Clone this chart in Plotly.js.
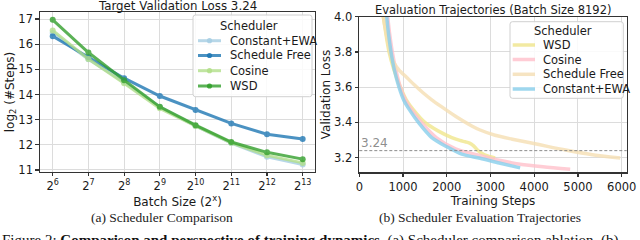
<!DOCTYPE html>
<html>
<head>
<meta charset="utf-8">
<script src="https://cdn.plot.ly/plotly-3.0.1.min.js"></script>
<style>html,body{margin:0;padding:0;background:#fff;}#chart{width:640px;height:240px;}</style>
</head>
<body>
<div id="chart"></div>
<script>
// ---- Panel (a): Scheduler comparison ----
const batchExp = [6, 7, 8, 9, 10, 11, 12, 13];
const batchTickText = ["2<sup>6</sup>","2<sup>7</sup>","2<sup>8</sup>","2<sup>9</sup>","2<sup>10</sup>","2<sup>11</sup>","2<sup>12</sup>","2<sup>13</sup>"];
const stepsConstEWA = [16.45, 15.40, 14.50, 13.50, 12.75, 12.07, 11.52, 11.22];
const stepsSchedFree = [16.32, 15.48, 14.65, 13.94, 13.38, 12.85, 12.42, 12.23];
const stepsCosine = [16.55, 15.41, 14.45, 13.45, 12.75, 12.08, 11.58, 11.28];
const stepsWSD = [16.97, 15.67, 14.57, 13.51, 12.78, 12.11, 11.70, 11.43];
const namesA = ["Constant+EWA", "Schedule Free", "Cosine", "WSD"];

// ---- Panel (b): Evaluation trajectories ----
const ewaSteps = [600, 627, 670, 725, 800, 908, 1020, 1160, 1351, 1656, 2000, 2343, 2762, 3200, 3677];
const ewaLoss  = [4.06, 4.00, 3.90, 3.80, 3.70, 3.60, 3.525, 3.467, 3.40, 3.314, 3.262, 3.22, 3.197, 3.17, 3.142];
const cosSteps = [625, 650, 695, 755, 835, 940, 1060, 1210, 1420, 1760, 2200, 2762, 3200, 3677, 4200, 4822];
const cosLoss  = [4.06, 4.00, 3.90, 3.80, 3.70, 3.60, 3.525, 3.467, 3.40, 3.314, 3.25, 3.212, 3.185, 3.163, 3.148, 3.134];
const wsdSteps = [515, 549, 610, 680, 790, 940, 1070, 1252, 1500, 1800, 2114, 2300, 2420, 2520, 2600, 2660, 2716, 2850, 3000, 3105];
const wsdLoss  = [4.06, 4.00, 3.90, 3.80, 3.70, 3.60, 3.53, 3.467, 3.40, 3.352, 3.314, 3.298, 3.29, 3.283, 3.27, 3.255, 3.24, 3.218, 3.205, 3.198];
const sfSteps  = [515, 549, 620, 700, 740, 790, 900, 1085, 1250, 1450, 1650, 1886, 2200, 2572, 2762, 3105, 3500, 3906, 4300, 4746, 5300, 5966];
const sfLoss   = [4.06, 4.00, 3.90, 3.80, 3.765, 3.74, 3.70, 3.655, 3.615, 3.57, 3.53, 3.488, 3.435, 3.38, 3.357, 3.327, 3.305, 3.285, 3.264, 3.242, 3.218, 3.198];
const targetLoss = 3.24;
const namesB = ["WSD", "Cosine", "Schedule Free", "Constant+EWA"];

const W = 640, H = 240;
const px = x => x / W;
const py = y => 1 - y / H;
const FONT = "DejaVu Sans, sans-serif";
const SERIF = "Liberation Serif, DejaVu Serif, serif";

const colA = ["#a6cee3", "#1f78b4", "#b2df8a", "#33a02c"];
const colB = ["#f0e68c", "#ffc0cb", "#f5deb3", "#87ceeb"];

const seriesA = [stepsConstEWA, stepsSchedFree, stepsCosine, stepsWSD];
const traces = [];
seriesA.forEach((ys, i) => {
  traces.push({
    x: batchExp, y: ys, name: namesA[i], type: "scatter", mode: "lines+markers",
    xaxis: "x", yaxis: "y", showlegend: false, opacity: 0.8,
    line: {color: colA[i], width: 3}, marker: {color: colA[i], size: 6}
  });
});
const seriesB = [[wsdSteps, wsdLoss], [cosSteps, cosLoss], [sfSteps, sfLoss], [ewaSteps, ewaLoss]];
seriesB.forEach((s, i) => {
  traces.push({
    x: s[0], y: s[1], name: namesB[i], type: "scatter", mode: "lines",
    xaxis: "x2", yaxis: "y2", showlegend: false, opacity: 0.8,
    line: {color: colB[i], width: 3.5, shape: "spline", smoothing: 0.8}
  });
});

const shapes = [];
const annotations = [];

// target dashed line
shapes.push({type: "line", xref: "x2 domain", yref: "y2", x0: 0, x1: 1, y0: targetLoss, y1: targetLoss,
  line: {color: "rgba(128,128,128,0.9)", width: 1, dash: "3px,2px"}});
annotations.push({xref: "x2", yref: "y2", x: 0, y: targetLoss, text: String(targetLoss), showarrow: false,
  xanchor: "left", yanchor: "bottom", yshift: -1, font: {family: FONT, size: 12, color: "rgba(128,128,128,0.9)"}});

function roundRect(x0, y0, x1, y1, r) {
  const X = v => px(v), Y = v => py(v);
  return `M${X(x0 + r)},${Y(y0)} L${X(x1 - r)},${Y(y0)} Q${X(x1)},${Y(y0)} ${X(x1)},${Y(y0 + r)} ` +
         `L${X(x1)},${Y(y1 - r)} Q${X(x1)},${Y(y1)} ${X(x1 - r)},${Y(y1)} L${X(x0 + r)},${Y(y1)} ` +
         `Q${X(x0)},${Y(y1)} ${X(x0)},${Y(y1 - r)} L${X(x0)},${Y(y0 + r)} Q${X(x0)},${Y(y0)} ${X(x0 + r)},${Y(y0)} Z`;
}

function legend(box, titlePos, lineX, textX, rowsY, names, colors, withMarker, lw) {
  shapes.push({type: "path", xref: "paper", yref: "paper", path: roundRect(box[0], box[1], box[2], box[3], 2.5),
    fillcolor: "rgba(255,255,255,0.85)", line: {color: "#d0d0d0", width: 1}, layer: "above"});
  annotations.push({xref: "paper", yref: "paper", x: px(titlePos[0]), y: py(titlePos[1]), text: "Scheduler",
    showarrow: false, xanchor: "center", yanchor: "middle", font: {family: FONT, size: 11.5, color: "#1a1a1a"}});
  names.forEach((n, i) => {
    const yy = rowsY[i];
    shapes.push({type: "line", xref: "paper", yref: "paper", x0: px(lineX[0]), x1: px(lineX[1]), y0: py(yy), y1: py(yy),
      line: {color: colors[i], width: lw}, opacity: 0.8, layer: "above"});
    if (withMarker) {
      const cx = (lineX[0] + lineX[1]) / 2, r = 2.6;
      shapes.push({type: "circle", xref: "paper", yref: "paper", x0: px(cx - r), x1: px(cx + r), y0: py(yy - r), y1: py(yy + r),
        fillcolor: colors[i], line: {width: 0}, opacity: 0.9, layer: "above"});
    }
    annotations.push({xref: "paper", yref: "paper", x: px(textX), y: py(yy), text: n, showarrow: false,
      xanchor: "left", yanchor: "middle", font: {family: FONT, size: 11.5, color: "#1a1a1a"}});
  });
}
legend([193, 15, 312, 96.7], [249, 25.7], [198, 221], 227.5, [40.7, 55.5, 70.7, 86], namesA, colA, true, 3);
legend([510, 21.7, 623.3, 98.3], [563.3, 30.5], [512.7, 535], 541, [45, 59.5, 74.3, 89], namesB, colB, false, 3.5);

// titles & captions
annotations.push({xref: "paper", yref: "paper", x: px(177.5), y: py(6), text: "Target Validation Loss 3.24", showarrow: false,
  xanchor: "center", yanchor: "middle", font: {family: FONT, size: 11.8, color: "#1a1a1a"}});
annotations.push({xref: "paper", yref: "paper", x: px(493), y: py(10.5), text: "Evaluation Trajectories (Batch Size 8192)", showarrow: false,
  xanchor: "center", yanchor: "middle", font: {family: FONT, size: 11.5, color: "#1a1a1a"}});
annotations.push({xref: "paper", yref: "paper", x: px(162), y: py(217), text: "(a) Scheduler Comparison", showarrow: false,
  xanchor: "center", yanchor: "middle", font: {family: SERIF, size: 13.5, color: "#222"}});
annotations.push({xref: "paper", yref: "paper", x: px(480), y: py(217), text: "(b) Scheduler Evaluation Trajectories", showarrow: false,
  xanchor: "center", yanchor: "middle", font: {family: SERIF, size: 13.5, color: "#222"}});
annotations.push({xref: "paper", yref: "paper", x: px(0), y: py(230), text: "Figure 2: <b>Comparison and perspective of training dynamics.</b> (a) Scheduler comparison ablation. (b)", showarrow: false,
  xanchor: "left", yanchor: "top", font: {family: SERIF, size: 15, color: "#111"}});

const axisCommon = {
  showline: true, mirror: true, linecolor: "#333", linewidth: 1.2,
  showgrid: true, gridcolor: "#dcdcdc", gridwidth: 1, zeroline: false,
  ticks: "outside", ticklen: 3.5, tickwidth: 1.2, tickcolor: "#333",
  tickfont: {family: FONT, size: 11.5, color: "#1a1a1a"}, automargin: false, fixedrange: true
};

const layout = {
  width: W, height: H, margin: {l: 0, r: 0, t: 0, b: 0},
  paper_bgcolor: "#fff", plot_bgcolor: "#fff", showlegend: false,
  xaxis: Object.assign({}, axisCommon, {
    domain: [px(40), px(315)], range: [5.644, 13.345], tickvals: batchExp, ticktext: batchTickText,
    anchor: "y", title: {text: "Batch Size (2<sup>x</sup>)", standoff: 0, font: {family: FONT, size: 12, color: "#1a1a1a"}}
  }),
  yaxis: Object.assign({}, axisCommon, {
    domain: [py(171.7), py(12.3)], range: [10.93, 17.27], dtick: 1, tick0: 11,
    anchor: "x", title: {text: "log<sub>2</sub> (#Steps)", standoff: 1, font: {family: FONT, size: 12, color: "#1a1a1a"}}
  }),
  xaxis2: Object.assign({}, axisCommon, {
    domain: [px(359.3), px(626.7)], range: [0, 6114], dtick: 1000, tick0: 0,
    anchor: "y2", title: {text: "Training Steps", standoff: 0, font: {family: FONT, size: 12, color: "#1a1a1a"}}
  }),
  yaxis2: Object.assign({}, axisCommon, {
    domain: [py(172.3), py(16.7)], range: [3.117, 4.0], dtick: 0.2, tick0: 3.2, tickformat: ".1f",
    anchor: "x2", title: {text: "Validation Loss", standoff: 0, font: {family: FONT, size: 12, color: "#1a1a1a"}}
  }),
  shapes: shapes, annotations: annotations
};

Plotly.newPlot("chart", traces, layout, {displayModeBar: false, staticPlot: true});
</script>
</body>
</html>
